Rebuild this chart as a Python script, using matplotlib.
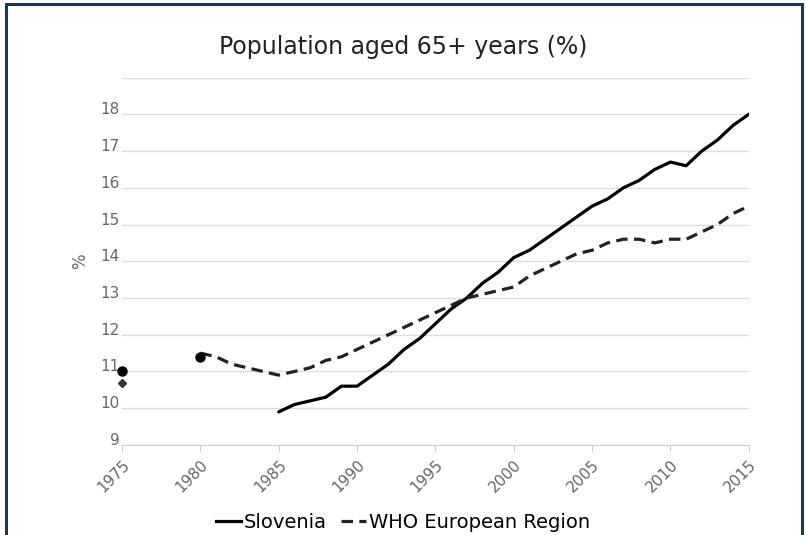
import matplotlib

matplotlib.use("Agg")
import matplotlib.pyplot as plt
import matplotlib.transforms as mtransforms
from matplotlib.patches import Rectangle
from matplotlib.lines import Line2D

# isolated early observations
SLO_ISO_YEARS = [1975, 1980]
SLO_ISO_VALS = [11.0, 11.4]
WHO_ISO_YEARS = [1975]
WHO_ISO_VALS = [10.7]

# continuous series
SLO_YEARS = list(range(1985, 2016))
SLO_VALS = [9.9, 10.1, 10.2, 10.3, 10.6, 10.6, 10.9, 11.2, 11.6, 11.9,
            12.3, 12.7, 13.0, 13.4, 13.7, 14.1, 14.3, 14.6, 14.9, 15.2,
            15.5, 15.7, 16.0, 16.2, 16.5, 16.7, 16.6, 17.0, 17.3, 17.7, 18.0]
WHO_YEARS = list(range(1980, 2016))
WHO_VALS = [11.5, 11.4, 11.2, 11.1, 11.0, 10.9, 11.0, 11.1, 11.3, 11.4,
            11.6, 11.8, 12.0, 12.2, 12.4, 12.6, 12.8, 13.0, 13.1, 13.2,
            13.3, 13.6, 13.8, 14.0, 14.2, 14.3, 14.5, 14.6, 14.6, 14.5,
            14.6, 14.6, 14.8, 15.0, 15.3, 15.5]

X_TICKS = list(range(1975, 2016, 5))
Y_TICKS = list(range(9, 20))

fig = plt.figure(figsize=(8.06, 5.35), dpi=100)
fig.patches.append(Rectangle((0.007, -0.05), 0.988, 1.043, transform=fig.transFigure,
                             fill=False, edgecolor="#1c3558", lw=2.2))

ax = fig.add_axes([0.1514, 0.1683, 0.7776, 0.6867])
ax.plot(SLO_YEARS, SLO_VALS, color="black", lw=2.3, solid_capstyle="round")
ax.plot(WHO_YEARS, WHO_VALS, color="#222222", lw=2.3, dashes=(3.6, 2))
ax.plot(SLO_ISO_YEARS, SLO_ISO_VALS, "o", color="black", ms=6.5, clip_on=False, zorder=5)
ax.plot(WHO_ISO_YEARS, WHO_ISO_VALS, "D", color="#333333", ms=4.5, clip_on=False, zorder=5)

ax.set_xlim(1975, 2015)
ax.set_ylim(9, 19)
ax.set_xticks(X_TICKS)
ax.set_xticklabels([str(x) for x in X_TICKS], rotation=45, ha="right",
                   rotation_mode="anchor", fontsize=11, color="#666666")
ax.set_yticks(Y_TICKS)
ax.set_yticklabels([str(y) if y < 19 else "" for y in Y_TICKS], fontsize=11, color="#666666")
ax.tick_params(axis="y", length=0, pad=2)
ax.tick_params(axis="x", length=4, color="#cccccc", pad=5)
# y labels sit a little above their grid lines
up = mtransforms.ScaledTranslation(0, 6 / 100, fig.dpi_scale_trans)
for lab in ax.get_yticklabels():
    lab.set_transform(lab.get_transform() + up)
ax.grid(axis="y", color="#dddddd", lw=1)
for s in ("top", "right", "left"):
    ax.spines[s].set_visible(False)
ax.spines["bottom"].set_color("#cccccc")
ax.set_ylabel("%", fontsize=12, color="#666666", labelpad=8)

fig.text(0.5, 0.912, "Population aged 65+ years (%)", ha="center", va="center",
         fontsize=17, color="#222222")

handles = [Line2D([], [], color="black", lw=2.3),
           Line2D([], [], color="#222222", lw=2.3, dashes=(3.6, 2))]
fig.legend(handles, ["Slovenia", "WHO European Region"], loc="center",
           bbox_to_anchor=(0.5, 0.024), ncol=2, frameon=False, fontsize=14,
           handlelength=1.3, handletextpad=0.15, columnspacing=0.7)

fig.savefig("out.png", dpi=100)
